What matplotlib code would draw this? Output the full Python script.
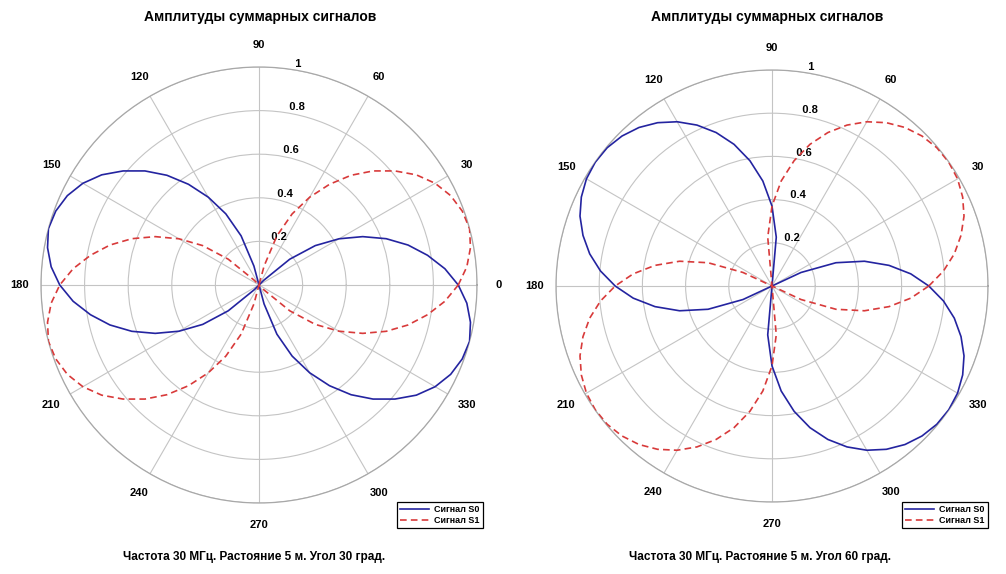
import numpy as np
import matplotlib
matplotlib.use("Agg")
import matplotlib.pyplot as plt

# ---------------- data ----------------
ANGLES_DEG = list(range(0, 361, 5))

# Plot 1: angle 30 deg
S0_30 = [0.914, 0.856, 0.785, 0.708, 0.621, 0.525, 0.424, 0.315, 0.184, 0.03,
         0, 0, 0, 0, 0, 0, 0, 0, 0, 0, 0,
         0.09, 0.24, 0.36, 0.465, 0.564, 0.657, 0.74, 0.814, 0.881, 0.933, 0.97, 0.992, 1.0,
         0.985, 0.957, 0.914, 0.856, 0.785, 0.708, 0.621, 0.525, 0.424, 0.315, 0.184, 0.03,
         0, 0, 0, 0, 0, 0, 0, 0, 0, 0, 0,
         0.09, 0.24, 0.36, 0.465, 0.564, 0.657, 0.74, 0.814, 0.881, 0.933, 0.97, 0.992, 1.0,
         0.985, 0.957, 0.914]
S1_30 = [0.914, 0.957, 0.985, 1.0, 0.992, 0.97, 0.933, 0.881, 0.814, 0.74, 0.657, 0.564,
         0.465, 0.36, 0.24, 0.09,
         0, 0, 0, 0, 0, 0, 0, 0, 0, 0, 0,
         0.03, 0.184, 0.315, 0.424, 0.525, 0.621, 0.708, 0.785, 0.856, 0.914, 0.957, 0.985,
         1.0, 0.992, 0.97, 0.933, 0.881, 0.814, 0.74, 0.657, 0.564, 0.465, 0.36, 0.24, 0.09,
         0, 0, 0, 0, 0, 0, 0, 0, 0, 0, 0,
         0.03, 0.184, 0.315, 0.424, 0.525, 0.621, 0.708, 0.785, 0.856, 0.914]

# Plot 2: angle 60 deg
S0_60 = [0.726, 0.645, 0.55, 0.443, 0.315, 0.148,
         0, 0, 0, 0, 0, 0, 0, 0, 0, 0, 0,
         0.227, 0.37, 0.488, 0.589, 0.679, 0.756, 0.822, 0.878, 0.923, 0.958, 0.982, 0.996,
         0.999, 0.992, 0.974, 0.946, 0.906, 0.857, 0.797, 0.726, 0.645, 0.55, 0.443, 0.315, 0.148,
         0, 0, 0, 0, 0, 0, 0, 0, 0, 0, 0,
         0.227, 0.37, 0.488, 0.589, 0.679, 0.756, 0.822, 0.878, 0.923, 0.958, 0.982, 0.996,
         0.999, 0.992, 0.974, 0.946, 0.906, 0.857, 0.797, 0.726]
S1_60 = [0.726, 0.797, 0.857, 0.906, 0.946, 0.974, 0.992, 0.999, 0.996, 0.982, 0.958, 0.923,
         0.878, 0.822, 0.756, 0.679, 0.589, 0.488, 0.37, 0.227,
         0, 0, 0, 0, 0, 0, 0, 0, 0, 0, 0,
         0.148, 0.315, 0.443, 0.55, 0.645, 0.726, 0.797, 0.857, 0.906, 0.946, 0.974, 0.992,
         0.999, 0.996, 0.982, 0.958, 0.923, 0.878, 0.822, 0.756, 0.679, 0.589, 0.488, 0.37, 0.227,
         0, 0, 0, 0, 0, 0, 0, 0, 0, 0, 0,
         0.148, 0.315, 0.443, 0.55, 0.645, 0.726]

THETA_TICKS = [0, 30, 60, 90, 120, 150, 180, 210, 240, 270, 300, 330]
THETA_LABELS = ["0", "30", "60", "90", "120", "150", "180", "210", "240", "270", "300", "330"]
R_TICKS = [0.2, 0.4, 0.6, 0.8, 1.0]
R_LABELS = ["0.2", "0.4", "0.6", "0.8", "1"]
SERIES_NAMES = ["Сигнал S0", "Сигнал S1"]
TITLE = "Амплитуды суммарных сигналов"
CAPTIONS = ["Частота 30 МГц. Растояние 5 м. Угол 30 град.",
            "Частота 30 МГц. Растояние 5 м. Угол 60 град."]

# ---------------- figure ----------------
plt.rcParams['font.family'] = ['Liberation Sans', 'DejaVu Sans']
W, H = 1006, 574
fig = plt.figure(figsize=(W / 100, H / 100), dpi=100)

GRID_C = "#c4c4c4"
BLUE = "#2424a0"
RED = "#d83a3a"


def make_axes(cx, cy, R):
    rect = [(cx - R) / W, (H - cy - R) / H, 2 * R / W, 2 * R / H]
    return fig.add_axes(rect, projection="polar")


def draw(ax, s0, s1, legend_right, legend_bottom):
    th = np.deg2rad(ANGLES_DEG)
    l0, = ax.plot(th, s0, color=BLUE, lw=1.2, label=SERIES_NAMES[0], zorder=4)
    l1, = ax.plot(th, s1, color=RED, lw=1.2, ls=(0, (4, 2.5)), label=SERIES_NAMES[1], zorder=4)
    ax.set_ylim(0, 1)
    ax.set_rticks(R_TICKS)
    ax.set_yticklabels([])
    ax.set_thetagrids(THETA_TICKS, labels=[""] * len(THETA_TICKS))
    ax.grid(True, color=GRID_C, lw=0.8, ls="-")
    ax.spines["polar"].set_color("#a8a8a8")
    ax.spines["polar"].set_linewidth(0.9)
    for a, lab in zip(THETA_TICKS, THETA_LABELS):
        ax.text(np.deg2rad(a), 1.1, lab, ha="center", va="center",
                fontsize=8, fontweight="bold", clip_on=False, zorder=3)
    for r, lab in zip(R_TICKS, R_LABELS):
        ax.text(np.deg2rad(82), r, "  " + lab, ha="left", va="bottom",
                fontsize=8, fontweight="bold", clip_on=False, zorder=3)
    leg = ax.legend(handles=[l0, l1], loc="lower right",
                    bbox_to_anchor=(legend_right, legend_bottom),
                    bbox_transform=fig.transFigure,
                    prop={"size": 6.5, "weight": "bold"},
                    handlelength=3.2, handletextpad=0.6, borderpad=0.35,
                    labelspacing=0.2, fancybox=False, framealpha=1,
                    edgecolor="black", borderaxespad=0)
    leg.get_frame().set_linewidth(0.9)
    leg.set_zorder(10)


ax1 = make_axes(259, 285, 218)
draw(ax1, S0_30, S1_30, 483 / W, (H - 528) / H)
ax2 = make_axes(772, 286, 216)
draw(ax2, S0_60, S1_60, 988 / W, (H - 528) / H)

fig.text(260 / W, 1 - 17 / H, TITLE, ha="center", va="center", fontsize=10, fontweight="bold")
fig.text(767 / W, 1 - 17 / H, TITLE, ha="center", va="center", fontsize=10, fontweight="bold")
fig.text(254 / W, 1 - 557 / H, CAPTIONS[0], ha="center", va="center", fontsize=8.5, fontweight="bold")
fig.text(760 / W, 1 - 557 / H, CAPTIONS[1], ha="center", va="center", fontsize=8.5, fontweight="bold")

fig.savefig("out.png", dpi=100, facecolor="white")
